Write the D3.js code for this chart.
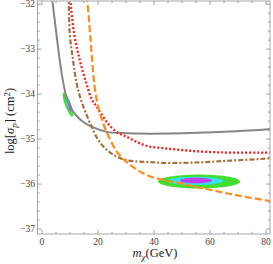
<!DOCTYPE html>
<html><head><meta charset="utf-8">
<script src="https://cdn.jsdelivr.net/npm/d3@7"></script>
<style>body{margin:0;background:#fff}svg{display:block}</style>
</head><body>
<svg id="c" width="273" height="264"></svg>
<script>
// ---- data (mχ in GeV, log10 σ_p in cm^2) ----
const grayCurve = [[3.46,-31.8],[3.68,-31.91],[5.11,-32.64],[6.32,-33.24],[7.43,-33.69],[8.75,-34.07],[10.18,-34.29],[12.14,-34.47],[14.75,-34.62],[18.32,-34.74],[23.11,-34.84],[30.25,-34.87],[38.57,-34.88],[55.25,-34.86],[67.14,-34.83],[80.71,-34.78],[82,-34.77]];
const redCurve = [[9.9,-31.8],[10.1,-31.91],[11.43,-32.64],[13.46,-33.24],[15.82,-33.76],[17.86,-34.13],[19.54,-34.28],[23.1,-34.62],[26.68,-34.84],[30.25,-34.95],[34.4,-35.08],[37.96,-35.16],[43.2,-35.2],[49.3,-35.24],[55.25,-35.27],[61.1,-35.29],[67.1,-35.3],[80.7,-35.3],[82,-35.3]];
const brownCurve = [[9.49,-31.8],[9.54,-31.91],[9.89,-32.64],[11.07,-33.24],[12.5,-33.8],[13.93,-34.13],[15.54,-34.4],[17.75,-34.73],[20.11,-35.02],[23.11,-35.24],[26.68,-35.39],[30.25,-35.47],[34.39,-35.5],[38.32,-35.51],[43.21,-35.53],[55.25,-35.52],[67.14,-35.48],[80.71,-35.43],[82,-35.42]];
const orangeCurve = [[16.02,-31.8],[16.18,-31.91],[16.96,-32.5],[17.61,-33.02],[18.39,-33.62],[19.11,-33.98],[20.18,-34.31],[21.96,-34.67],[24.11,-34.98],[26.68,-35.28],[29.64,-35.48],[33.21,-35.65],[37.39,-35.8],[43.32,-35.91],[49.29,-35.98],[55.25,-36.07],[61.18,-36.14],[67.14,-36.22],[73.11,-36.29],[80.82,-36.37],[82,-36.38]];
// contour regions: centre, half-axis vector a, half-axis vector b (data units)
const regionsLow = [
  {c:[9.286,-34.233], a:[1.604,-0.266], b:[1.003,0.0234], color:"#44dd33"},
  {c:[9.65,-34.245], a:[0.92,-0.175], b:[0.62,0.0125], color:"#33e3ee"},
  {c:[9.893,-34.267], a:[0.485,-0.123], b:[0.45,0.0069], color:"#c53cf0"}
];
const regionsHigh = [
  {c:[56.07,-35.944], a:[14.64,0], b:[0,0.155], color:"#44dd33"},
  {c:[54.64,-35.929], a:[10.0,0], b:[0,0.092], color:"#33e3ee"},
  {c:[55.0,-35.922], a:[5.71,0], b:[0,0.062], color:"#c53cf0"}
];
const xMajor = [0,20,40,60,80];
const xMinor = [5,10,15,25,30,35,45,50,55,65,70,75];
const yMajor = [-37,-36,-35,-34,-33,-32];
const yMinor = [];
for (let k=-37; k<-32; k++) for (let j=1;j<5;j++) yMinor.push(+(k+j*0.2).toFixed(1));

// ---- layout ----
const L=37.5, R=270, T=1, B=234;
const x = d3.scaleLinear().domain([-1.6,81.4]).range([L,R]);
const y = d3.scaleLinear().domain([-37.11,-31.93]).range([B,T]);
const svg = d3.select("#c");

svg.append("defs").append("clipPath").attr("id","clip")
  .append("rect").attr("x",L).attr("y",T).attr("width",R-L).attr("height",B-T);
const g = svg.append("g").attr("clip-path","url(#clip)");

// regions
function ellipse(r){
  const pts=[];
  for(let i=0;i<=72;i++){const t=i/72*2*Math.PI;
    pts.push([x(r.c[0]+Math.cos(t)*r.a[0]+Math.sin(t)*r.b[0]), y(r.c[1]+Math.cos(t)*r.a[1]+Math.sin(t)*r.b[1])]);}
  return d3.line()(pts)+"Z";
}
[...regionsLow,...regionsHigh].forEach(r=>{
  g.append("path").attr("d",ellipse(r)).attr("fill",r.color).attr("stroke","none");
});

const line = d3.line().x(d=>x(d[0])).y(d=>y(d[1])).curve(d3.curveCatmullRom.alpha(0.5));
g.append("path").datum(grayCurve).attr("d",line).attr("fill","none").attr("stroke","#858585").attr("stroke-width",2);
g.append("path").datum(redCurve).attr("d",line).attr("fill","none").attr("stroke","#ff1a1a").attr("stroke-width",2.3).attr("stroke-dasharray","2,2");
g.append("path").datum(brownCurve).attr("d",line).attr("fill","none").attr("stroke","#a2713d").attr("stroke-width",2.2).attr("stroke-dasharray","5,2,2,2");
g.append("path").datum(orangeCurve).attr("d",line).attr("fill","none").attr("stroke","#ff8c1a").attr("stroke-width",2.2).attr("stroke-dasharray","7,3");

// frame
svg.append("rect").attr("x",L).attr("y",T).attr("width",R-L).attr("height",B-T)
  .attr("fill","none").attr("stroke","#a8a8a8").attr("stroke-width",1);

const tk = svg.append("g").attr("stroke","#8a8a8a").attr("stroke-width",0.8);
xMajor.forEach(v=>{const p=x(v);
  tk.append("line").attr("x1",p).attr("x2",p).attr("y1",B).attr("y2",B-4);
  tk.append("line").attr("x1",p).attr("x2",p).attr("y1",T).attr("y2",T+4);});
xMinor.forEach(v=>{const p=x(v);
  tk.append("line").attr("x1",p).attr("x2",p).attr("y1",B).attr("y2",B-2.2);
  tk.append("line").attr("x1",p).attr("x2",p).attr("y1",T).attr("y2",T+2.2);});
yMajor.forEach(v=>{const p=y(v);
  tk.append("line").attr("y1",p).attr("y2",p).attr("x1",L).attr("x2",L+4);
  tk.append("line").attr("y1",p).attr("y2",p).attr("x1",R).attr("x2",R-4);});
yMinor.forEach(v=>{const p=y(v);
  tk.append("line").attr("y1",p).attr("y2",p).attr("x1",L).attr("x2",L+2.2);
  tk.append("line").attr("y1",p).attr("y2",p).attr("x1",R).attr("x2",R-2.2);});

const font = "'Liberation Serif','DejaVu Serif',serif";
xMajor.forEach(v=>{
  svg.append("text").attr("x",x(v)).attr("y",244.5).attr("text-anchor","middle")
    .attr("font-family",font).attr("font-size",9.5).attr("fill","#444").text(v);
});
yMajor.forEach(v=>{
  svg.append("text").attr("x",35).attr("y",y(v)+3.2).attr("text-anchor","end")
    .attr("font-family",font).attr("font-size",9.5).attr("fill","#444").text("\u2212"+Math.abs(v));
});

// axis titles
const xt = svg.append("text").attr("x",155).attr("y",257).attr("text-anchor","middle")
  .attr("font-family",font).attr("font-size",12.5).attr("fill","#222");
xt.append("tspan").attr("font-style","italic").text("m");
xt.append("tspan").attr("font-style","italic").attr("font-size",9).attr("dy",2.5).text("\u03c7");
xt.append("tspan").attr("dy",-2.5).text("(GeV)");

const yt = svg.append("text").attr("transform","translate(14,121) rotate(-90)").attr("text-anchor","middle")
  .attr("font-family",font).attr("font-size",12.5).attr("fill","#222");
yt.append("tspan").text("log[");
yt.append("tspan").attr("font-style","italic").text("\u03c3");
yt.append("tspan").attr("font-style","italic").attr("font-size",9).attr("dy",2.5).text("p");
yt.append("tspan").attr("dy",-2.5).text("] (cm");
yt.append("tspan").attr("font-size",9).attr("dy",-4.5).text("2");
yt.append("tspan").attr("dy",4.5).text(")");
</script>
</body></html>
